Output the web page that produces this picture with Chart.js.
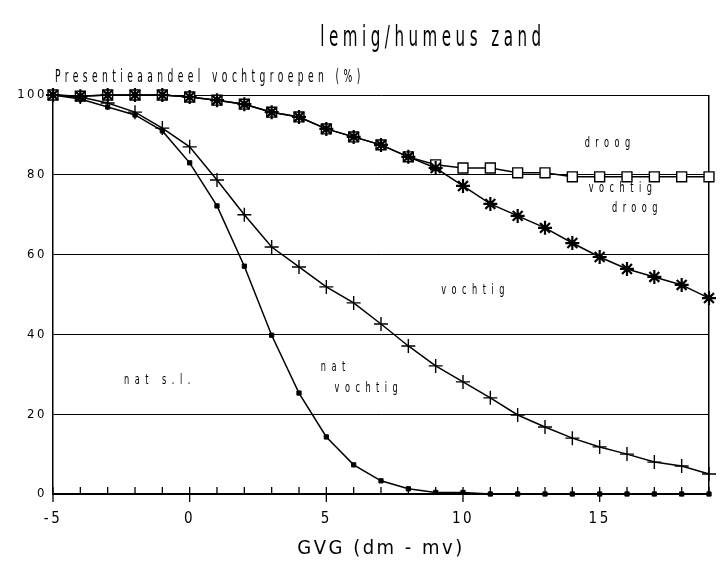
<!DOCTYPE html>
<html>
<head>
<meta charset="utf-8">
<title>lemig/humeus zand</title>
<script src="https://cdn.jsdelivr.net/npm/chart.js@4.4.0/dist/chart.umd.min.js"></script>
<style>
	html, body { margin: 0; padding: 0; background: #fff; }
	#chart { display: block; }
</style>
</head>
<body>
<canvas id="chart" width="725" height="565"></canvas>
<script>
// GVG (dm - mv), one point per decimetre
const gvg = [-5, -4, -3, -2, -1, 0, 1, 2, 3, 4, 5, 6, 7, 8, 9, 10, 11, 12, 13, 14, 15, 16, 17, 18, 19];

// cumulative share (%) below each boundary curve
const natSl = [100, 99, 97, 95, 91, 83, 72.2, 57.1, 39.8, 25.3, 14.3, 7.3, 3.3, 1.3, 0.4, 0.4, 0, 0, 0, 0, 0, 0, 0, 0, 0];
const natVochtig = [100, 99.5, 98, 95.7, 91.7, 87, 78.7, 70, 61.9, 56.9, 51.9, 47.9, 42.6, 37.1, 32.1, 28.1, 24.1, 19.8, 16.8, 14, 11.8, 10, 8, 7, 5];
const vochtig = [100, 99.7, 100, 100, 100, 99.5, 98.7, 97.7, 95.7, 94.5, 91.5, 89.5, 87.5, 84.5, 81.7, 77.2, 72.7, 69.7, 66.7, 62.9, 59.4, 56.4, 54.4, 52.4, 49.1];
const vochtigDroog = [100, 99.7, 100, 100, 100, 99.5, 98.7, 97.7, 95.7, 94.5, 91.5, 89.5, 87.5, 84.5, 82.5, 81.7, 81.7, 80.5, 80.5, 79.5, 79.5, 79.5, 79.5, 79.5, 79.5];

// axis ticks
const yTicks = [0, 20, 40, 60, 80, 100];
const xLabels = [-5, 0, 5, 10, 15];

// zone names written inside the plot (left edge x, middle y in data units)
const zoneNames = ['droog', 'vochtig', 'droog', 'vochtig', 'nat', 'vochtig', 'nat s.l.'];
const zoneX = [14.45, 14.6, 15.45, 9.2, 4.8, 5.3, -2.4];
const zoneY = [88, 76.7, 71.7, 51.1, 31.8, 26.6, 28.6];

const FONT = "'Liberation Sans Narrow', 'DejaVu Sans Condensed', 'DejaVu Sans', sans-serif";

document.addEventListener("DOMContentLoaded", () => {

	Chart.defaults.font.family = FONT;
	Chart.defaults.color = '#000';

	const toPoints = (values) => values.map((v, i) => ({ x: gvg[i], y: v }));

	// draws squeezed, letter-spaced text like the old plotter lettering
	const plotterText = (ctx, text, x, y, size, squeeze, spacing, align) => {
		ctx.save();
		ctx.scale(squeeze, 1);
		ctx.font = `${size}px ${FONT}`;
		ctx.letterSpacing = (spacing / squeeze) + 'px';
		ctx.textAlign = align;
		ctx.textBaseline = 'middle';
		ctx.fillText(text, x / squeeze, y);
		ctx.restore();
	};

	const plotterPlugin = {
		id: 'plotter',
		beforeDraw(chart) {
			chart.ctx.letterSpacing = '2.5px';
		},
		afterDraw(chart) {
			const { ctx, scales: { x, y } } = chart;
			ctx.save();

			// x axis tick marks: minor ones point up, major ones cross the axis
			ctx.strokeStyle = '#000';
			ctx.lineWidth = 1.3;
			x.ticks.forEach(t => {
				const px = x.getPixelForValue(t.value);
				const major = xLabels.includes(t.value);
				ctx.beginPath();
				ctx.moveTo(px, y.bottom - 7);
				ctx.lineTo(px, y.bottom + (major ? 8 : 0));
				ctx.stroke();
			});

			ctx.fillStyle = '#000';
			plotterText(ctx, 'lemig/humeus zand', 433, 39, 28, 0.6, 4.5, 'center');
			plotterText(ctx, 'Presentieaandeel vochtgroepen (%)', 55, 78, 17, 0.6, 4.4, 'left');

			zoneNames.forEach((name, i) => {
				plotterText(ctx, name, x.getPixelForValue(zoneX[i]), y.getPixelForValue(zoneY[i]), 14, 0.65, 5.5, 'left');
			});

			ctx.restore();
		}
	};

	const lineStyle = {
		borderColor: '#000',
		borderWidth: 1.5,
		pointBorderColor: '#000',
		tension: 0,
		clip: false,
	};

	new Chart(document.getElementById('chart'), {
		type: 'line',
		data: {
			datasets: [
				{
					...lineStyle,
					label: 'nat s.l.',
					data: toPoints(natSl),
					pointStyle: 'rect',
					pointRadius: 3,
					pointBackgroundColor: '#000',
					pointBorderWidth: 1,
					order: 0,
				},
				{
					...lineStyle,
					label: 'nat vochtig',
					data: toPoints(natVochtig),
					pointStyle: 'cross',
					pointRadius: 7,
					pointBorderWidth: 1.4,
					order: 1,
				},
				{
					...lineStyle,
					label: 'vochtig',
					data: toPoints(vochtig),
					pointStyle: 'star',
					pointRadius: 7,
					pointBorderWidth: 2.2,
					order: 1,
				},
				{
					...lineStyle,
					label: 'vochtig droog',
					data: toPoints(vochtigDroog),
					pointStyle: 'rect',
					pointRadius: 7,
					pointBackgroundColor: '#fff',
					pointBorderWidth: 1.4,
					order: 2,
				},
			]
		},
		options: {
			responsive: false,
			animation: false,
			layout: { padding: { top: 95, right: 12, left: 0, bottom: 0 } },
			plugins: {
				legend: { display: false },
				tooltip: { enabled: false },
				title: { display: false },
			},
			scales: {
				x: {
					type: 'linear',
					min: gvg[0],
					max: gvg[gvg.length - 1],
					afterFit: (scale) => { scale.height = 71; },
					ticks: {
						stepSize: 1,
						autoSkip: false,
						maxRotation: 0,
						padding: 16,
						font: { size: 15 },
						callback: (v) => xLabels.includes(v) ? String(v) : '',
					},
					grid: {
						drawTicks: false,
						// only the right-hand frame line
						color: (c) => c.tick && c.tick.value === gvg[gvg.length - 1] ? '#000' : 'rgba(0,0,0,0)',
						lineWidth: 1.5,
					},
					border: { color: '#000', width: 1.5 },
					title: {
						display: true,
						text: 'GVG (dm - mv)',
						font: { size: 20 },
						padding: { top: 0, bottom: 4 },
					},
				},
				y: {
					min: 0,
					max: 100,
					afterFit: (scale) => { scale.width = 53; },
					afterBuildTicks: (scale) => { scale.ticks = yTicks.map(v => ({ value: v })); },
					ticks: {
						padding: 6,
						font: { size: 13 },
					},
					grid: {
						drawTicks: false,
						color: '#000',
						lineWidth: 1,
					},
					border: { color: '#000', width: 1.5 },
				},
			},
		},
		plugins: [plotterPlugin],
	});
});
</script>
</body>
</html>
